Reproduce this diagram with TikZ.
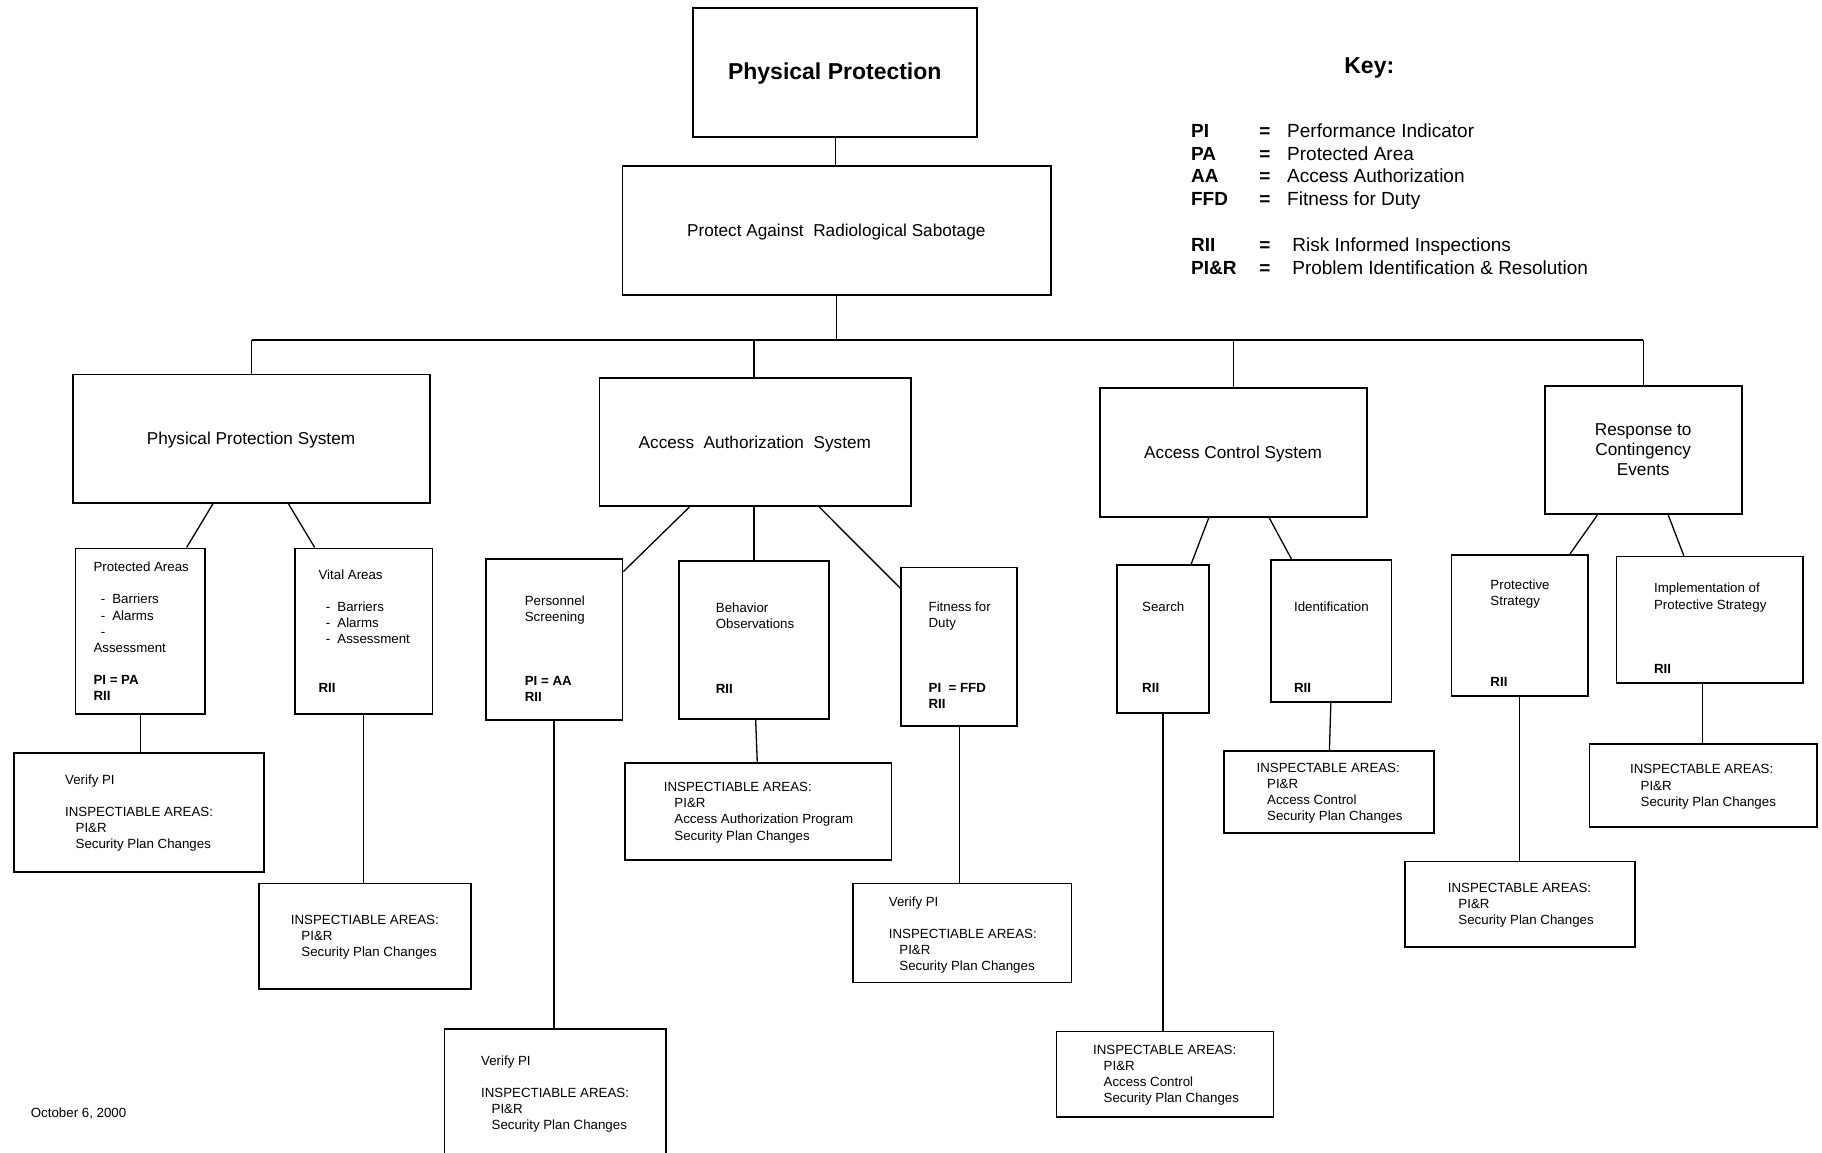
\documentclass[tikz,border=0pt]{standalone}
\usepackage{fontspec}
\setmainfont{Liberation Sans}
\usetikzlibrary{fit}
\newcommand\myind{\hspace*{10.5pt}}
\newcommand\mydash{\hspace*{7.4pt}-\hspace{7pt}}
\begin{document}
\begin{tikzpicture}[x=1.162pt, y=-1.162pt,
  box/.style={draw, line width=1.7pt, inner sep=0pt},
  link/.style={line width=1.3pt},
  sm/.style={font=\fontsize{13.3}{16.1}\selectfont, align=left, inner sep=0pt, anchor=north west},
  one/.style={inner sep=0pt, text depth=0pt},
  md/.style={font=\fontsize{17.2}{20}\selectfont, one, text height=12.3pt},
  ky/.style={font=\fontsize{19}{22.7}\selectfont, one, text height=13.6pt, anchor=west},
  kb/.style={ky, font=\fontsize{19}{22.7}\selectfont\bfseries},
  big/.style={font=\fontsize{23}{27}\selectfont\bfseries, one, text height=16.5pt}]
\useasboundingbox (0,0) rectangle (1568,992.25);

% ---------- boxes ----------
\node[box, fit={(596.5,7) (841,117.6)}] (pp) {};
\node[box, fit={(535.8,142.6) (904.2,253.6)}] (pras) {};
\node[box, fit={(62.6,322.4) (370.3,432.9)}] (pps) {};
\node[box, fit={(515.8,325.3) (784,435.7)}] (aas) {};
\node[box, fit={(946.5,334.2) (1176.2,445)}] (acs) {};
\node[box, fit={(1329.6,332) (1499,442.6)}] (rce) {};
\node[box, fit={(65.1,471.9) (176.2,614.2)}] (pa) {};
\node[box, fit={(254.1,471.9) (372.1,614.2)}] (va) {};
\node[box, fit={(12,648.3) (227,750.2)}] (v1) {};
\node[box, fit={(223,760.2) (405.3,851.1)}] (ia1) {};
\node[box, fit={(418,481.1) (535.6,619.6)}] (ps) {};
\node[box, fit={(584.4,482.5) (713.6,618.5)}] (bo) {};
\node[box, fit={(775.6,488.5) (875.4,624.5)}] (fd) {};
\node[box, fit={(537.9,656.9) (767.3,740.1)}] (ia2) {};
\node[box, fit={(734.2,760.2) (922.2,845.4)}] (v2) {};
\node[box, fit={(382.5,885.5) (573.3,1000)}] (v3) {};
\node[box, fit={(961.2,486.2) (1040.6,613.3)}] (se) {};
\node[box, fit={(1094,482) (1197.4,604)}] (id) {};
\node[box, fit={(909.3,887.8) (1095.9,961)}] (ia3) {};
\node[box, fit={(1053.6,646) (1234.1,717)}] (ia4) {};
\node[box, fit={(1249.1,477.6) (1366.4,598.7)}] (st) {};
\node[box, fit={(1391,479) (1551.4,588)}] (im) {};
\node[box, fit={(1209.1,741.5) (1407,814.7)}] (ia5) {};
\node[box, fit={(1368,640) (1563.6,711.4)}] (ia6) {};

% ---------- connectors ----------
\coordinate (bus) at (0,292.6);
\draw[link] (pp.south) -- (pp.south |- pras.north);
\draw[link] (pras.south) -- (pras.south |- bus);
\draw[link] (pps.north |- bus) -- (rce.north |- bus);
\draw[link] (pps.north |- bus) -- (pps.north);
\draw[link] (648.8,0 |- bus) -- (648.8,0 |- aas.north);
\draw[link] (acs.north |- bus) -- (acs.north);
\draw[link] (rce.north |- bus) -- (rce.north);

\draw[link] (183.2,0 |- pps.south) -- (160.6,0 |- pa.north);
\draw[link] (248.3,0 |- pps.south) -- (270.8,0 |- va.north);
\draw[link] (pa.south) -- (pa.south |- v1.north);
\draw[link] (va.south) -- (va.south |- ia1.north);

\draw[link] (593.2,0 |- aas.south) -- (ps.east |- 0,492);
\draw[link] (bo.north |- aas.south) -- (bo.north);
\draw[link] (705.1,0 |- aas.south) -- (fd.west |- 0,506.3);
\draw[link] (650.3,0 |- bo.south) -- (651.7,0 |- ia2.north);
\draw[link] (fd.south) -- (fd.south |- v2.north);
\draw[link] (ps.south) -- (ps.south |- v3.north);

\draw[link] (1040.2,0 |- acs.south) -- (1025.1,0 |- se.north);
\draw[link] (1092.3,0 |- acs.south) -- (1111.5,0 |- id.north);
\draw[link] (se.south) -- (se.south |- ia3.north);
\draw[link] (1145.3,0 |- id.south) -- (1144.1,0 |- ia4.north);

\draw[link] (1374.6,0 |- rce.south) -- (1351,0 |- st.north);
\draw[link] (1435.7,0 |- rce.south) -- (1449.1,0 |- im.north);
\draw[link] (st.south) -- (st.south |- ia5.north);
\draw[link] (1465.4,0 |- im.south) -- (1465.4,0 |- ia6.north);

% ---------- texts ----------
\node[big] (tpp) at (718.4,61.7) {Physical Protection};
\node[md] (tpras) at (719.7,197.9) {Protect Against\ \ Radiological Sabotage};
\node[md] (tpps) at (216,377.2) {Physical Protection System};
\node[md] (taas) at (649.6,381) {Access\ \ Authorization\ \ System};
\node[md] (tacs) at (1061.2,389.3) {Access Control System};
\node[font=\fontsize{17.2}{20}\selectfont, align=center, inner sep=0pt, anchor=north] (trce) at (1414.1,364.7) {Response to\\Contingency\\Events};

\node[sm] (tpa) at (80.3,483.6) {Protected Areas\\ \mbox{}\\ \mydash Barriers\\ \mydash Alarms\\ \hspace*{7.4pt}-\\ Assessment\\ \mbox{}\\ \textbf{PI = PA}\\ \textbf{RII}};
\node[sm] (tva) at (274,490.2) {Vital Areas\\ \mbox{}\\ \mydash Barriers\\ \mydash Alarms\\ \mydash Assessment\\ \mbox{}\\ \mbox{}\\ \textbf{RII}};
\node[sm] (tv1) at (55.9,666.6) {Verify PI\\ \mbox{}\\ INSPECTIABLE AREAS:\\ \myind PI\&R\\ \myind Security Plan Changes};
\node[sm] (tia1) at (250.2,787.6) {INSPECTIABLE AREAS:\\ \myind PI\&R\\ \myind Security Plan Changes};

\node[sm] (tps) at (451.5,512.2) {Personnel\\ Screening\\ \mbox{}\\ \mbox{}\\ \mbox{}\\ \textbf{PI = AA}\\ \textbf{RII}};
\node[sm] (tbo) at (615.9,518.8) {Behavior\\ Observations\\ \mbox{}\\ \mbox{}\\ \mbox{}\\ \textbf{RII}};
\node[sm] (tfd) at (799,518) {Fitness for\\ Duty\\ \mbox{}\\ \mbox{}\\ \mbox{}\\ \textbf{PI\ \ = FFD}\\ \textbf{RII}};
\node[sm] (tia2) at (571.2,673.2) {INSPECTIABLE AREAS:\\ \myind PI\&R\\ \myind Access Authorization Program\\ \myind Security Plan Changes};
\node[sm] (tv2) at (764.8,771.3) {Verify PI\\ \mbox{}\\ INSPECTIABLE AREAS:\\ \myind PI\&R\\ \myind Security Plan Changes};
\node[sm] (tv3) at (413.9,908.1) {Verify PI\\ \mbox{}\\ INSPECTIABLE AREAS:\\ \myind PI\&R\\ \myind Security Plan Changes};

\node[sm] (tse) at (982.8,517.9) {Search\\ \mbox{}\\ \mbox{}\\ \mbox{}\\ \mbox{}\\ \textbf{RII}};
\node[sm] (tid) at (1113.5,517.9) {Identification\\ \mbox{}\\ \mbox{}\\ \mbox{}\\ \mbox{}\\ \textbf{RII}};
\node[sm] (tia3) at (940.6,898.9) {INSPECTABLE AREAS:\\ \myind PI\&R\\ \myind Access Control\\ \myind Security Plan Changes};
\node[sm] (tia4) at (1081.3,656.3) {INSPECTABLE AREAS:\\ \myind PI\&R\\ \myind Access Control\\ \myind Security Plan Changes};

\node[sm] (tst) at (1282.5,498.8) {Protective\\ Strategy\\ \mbox{}\\ \mbox{}\\ \mbox{}\\ \mbox{}\\ \textbf{RII}};
\node[sm] (tim) at (1423.3,501.8) {Implementation of\\ Protective Strategy\\ \mbox{}\\ \mbox{}\\ \mbox{}\\ \textbf{RII}};
\node[sm] (tia5) at (1245.9,759.8) {INSPECTABLE AREAS:\\ \myind PI\&R\\ \myind Security Plan Changes};
\node[sm] (tia6) at (1402.7,657.9) {INSPECTABLE AREAS:\\ \myind PI\&R\\ \myind Security Plan Changes};

\node[font=\fontsize{13.3}{16.1}\selectfont, one, text height=9.5pt, anchor=west] (date) at (26.4,957.6) {October 6, 2000};

% ---------- key ----------
\node[big] (key) at (1178.4,55.9) {Key:};
\node[kb] (ka1) at (1024.9,112.4) {PI};
\node[kb] (ka2) at (1024.9,132) {PA};
\node[kb] (ka3) at (1024.9,151.2) {AA};
\node[kb] (ka4) at (1024.9,171) {FFD};
\node[kb] (ka5) at (1024.9,210.3) {RII};
\node[kb] (ka6) at (1024.9,230) {PI\&R};
\node[kb, anchor=center] (ke1) at (1088.5,112.4) {=};
\node[kb, anchor=center] (ke2) at (1088.5,132) {=};
\node[kb, anchor=center] (ke3) at (1088.5,151.2) {=};
\node[kb, anchor=center] (ke4) at (1088.5,171) {=};
\node[kb, anchor=center] (ke5) at (1088.5,210.3) {=};
\node[kb, anchor=center] (ke6) at (1088.5,230) {=};
\node[ky] (kt1) at (1107.6,112.4) {Performance Indicator};
\node[ky] (kt2) at (1107.6,132) {Protected Area};
\node[ky] (kt3) at (1107.6,151.2) {Access Authorization};
\node[ky] (kt4) at (1107.6,171) {Fitness for Duty};
\node[ky] (kt5) at (1112,210.3) {Risk Informed Inspections};
\node[ky] (kt6) at (1112,230) {Problem Identification \& Resolution};
\end{tikzpicture}
\end{document}
